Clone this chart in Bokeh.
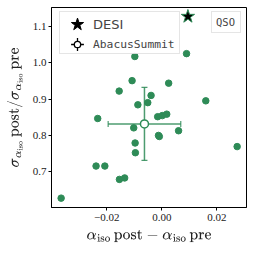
from bokeh.plotting import figure
from bokeh.models import (ColumnDataSource, Legend, LegendItem, Whisker, TeeHead,
                          FixedTicker, Range1d)
from bokeh.embed import file_html
from bokeh.resources import INLINE

# ---- data ----
dx = [-0.0366, -0.0239, -0.0207, -0.0233, -0.0154, -0.0135, -0.0155, -0.0108,
      -0.0098, -0.0087, -0.0102, -0.0097, -0.0096, -0.0051, -0.0039, 0.0025,
      -0.0015, 0.0002, 0.0018, -0.0012, -0.0009, 0.0061, 0.0160, 0.0274, 0.0090]
dy = [0.625, 0.714, 0.714, 0.846, 0.677, 0.681, 0.922, 0.951,
      1.018, 0.884, 0.820, 0.778, 0.751, 0.890, 0.910, 0.944,
      0.851, 0.854, 0.858, 0.799, 0.796, 0.812, 0.895, 0.768, 1.026]
desi_x = [0.0095]
desi_y = [1.129]
mean_x = [-0.0063]
mean_y = [0.831]
err_x = [0.0132]
err_y = [0.1015]

x_ticks = [-0.02, 0.0, 0.02]
x_tick_labels = ["\u22120.02", "0.00", "0.02"]
y_ticks = [0.7, 0.8, 0.9, 1.0, 1.1]
y_tick_labels = ["0.7", "0.8", "0.9", "1.0", "1.1"]

GREEN = "#2e8b57"
NAN = [float("nan")]
FH = 200

p = figure(frame_width=195, frame_height=FH, output_backend="svg", toolbar_location=None,
           x_range=Range1d(-0.0401, 0.0308), y_range=Range1d(0.599, 1.154),
           min_border_left=51, min_border_right=2, min_border_top=7, min_border_bottom=41)
p.grid.visible = False
p.outline_line_color = "black"
p.outline_line_width = 1
p.background_fill_color = "white"
p.border_fill_color = "white"

for ax, ticks, labels in ((p.xaxis, x_ticks, x_tick_labels), (p.yaxis, y_ticks, y_tick_labels)):
    ax.ticker = FixedTicker(ticks=ticks)
    ax.major_label_overrides = dict(zip(ticks, labels))
    ax.major_label_text_font = "Liberation Serif"
    ax.major_label_text_font_size = "11px"
    ax.major_label_text_color = "#222222"
    ax.minor_tick_line_color = None
    ax.major_tick_in = 0
    ax.major_tick_out = 3
    ax.axis_line_color = "black"
    ax.major_tick_line_color = "black"
    ax.axis_label_text_font_size = "13px"
    ax.axis_label_text_font_style = "normal"
    ax.axis_label_text_color = "#222222"

p.xaxis.major_label_standoff = 3
p.yaxis.major_label_standoff = 2
p.xaxis.axis_label = r"$$\alpha_\mathrm{iso}\,\mathrm{post} - \alpha_\mathrm{iso}\,\mathrm{pre}$$"
p.yaxis.axis_label = r"$$\sigma_{\alpha_\mathrm{iso}}\,\mathrm{post}/\sigma_{\alpha_\mathrm{iso}}\,\mathrm{pre}$$"
p.xaxis.axis_label_standoff = 6
p.yaxis.axis_label_standoff = 7

# points
p.scatter(dx, dy, size=6.5, fill_color=GREEN, line_color=GREEN)

# error bars of AbacusSummit mean
src = ColumnDataSource(dict(x=mean_x, y=mean_y,
                            xl=[mean_x[0] - err_x[0]], xu=[mean_x[0] + err_x[0]],
                            yl=[mean_y[0] - err_y[0]], yu=[mean_y[0] + err_y[0]]))
for base, lo, up, dim in (("y", "xl", "xu", "width"), ("x", "yl", "yu", "height")):
    w = Whisker(source=src, base=base, lower=lo, upper=up, dimension=dim,
                line_color=GREEN, line_width=1.5, line_alpha=0.85,
                upper_head=TeeHead(size=6, line_color=GREEN, line_width=1.2, line_alpha=0.85),
                lower_head=TeeHead(size=6, line_color=GREEN, line_width=1.2, line_alpha=0.85))
    p.add_layout(w)
p.scatter("x", "y", source=src, size=8, fill_color="white", line_color=GREEN, line_width=1.5)

# DESI star
p.scatter(desi_x, desi_y, marker="star", size=14, fill_color="black", line_color=GREEN, line_width=1)

# ---- legend (keys only; renderers with no visible point) ----
r_star = p.scatter(NAN, NAN, marker="star", size=14, fill_color="black", line_color="black")
r_cross = p.scatter(NAN, NAN, marker="cross", size=12, line_color="black", line_width=1.3)
r_circ = p.scatter(NAN, NAN, marker="circle", size=7, fill_color="white", line_color="black", line_width=1.3)
r_blank = p.scatter(NAN, NAN, marker="circle", size=1, fill_alpha=0, line_alpha=0)

# legend frame
legA = Legend(items=[LegendItem(label="\u00a0", renderers=[r_blank]),
                     LegendItem(label="\u00a0" * 20, renderers=[r_blank])],
              location=(8, FH - 47), margin=0,
              glyph_width=24, glyph_height=16, label_height=16, spacing=1, padding=4,
              label_standoff=4, label_text_font="DejaVu Sans", label_text_font_size="13px",
              border_line_color="#cccccc", background_fill_alpha=0.8)
# DESI entry
legS = Legend(items=[LegendItem(label="DESI", renderers=[r_star])],
              location=(10, FH - 33), margin=0,
              glyph_width=32, glyph_height=32, label_height=32, padding=0, label_standoff=0,
              label_text_font="DejaVu Sans", label_text_font_size="13px",
              border_line_color=None, background_fill_alpha=0)
# AbacusSummit entry
legE = Legend(items=[LegendItem(label="AbacusSummit", renderers=[r_cross])],
              location=(10, FH - 53), margin=0,
              glyph_width=32, glyph_height=32, label_height=32, padding=0, label_standoff=-2,
              label_text_font="DejaVu Sans Mono", label_text_font_size="11.3px",
              border_line_color=None, background_fill_alpha=0)
legE2 = Legend(items=[LegendItem(label=" ", renderers=[r_circ])],
               location=(18, FH - 45), margin=0,
               glyph_width=16, glyph_height=16, label_height=16, padding=0, label_standoff=0,
               label_text_font_size="1px",
               border_line_color=None, background_fill_alpha=0)
legC = Legend(items=[LegendItem(label="QSO", renderers=[r_blank])],
              location=(160, FH - 26), margin=0,
              glyph_width=0, glyph_height=11, label_height=11, padding=4, label_standoff=0,
              label_text_font="DejaVu Sans Mono", label_text_font_size="10.5px",
              border_line_color="#cccccc", background_fill_alpha=0.8)
for lg in (legA, legS, legE, legE2, legC):
    p.add_layout(lg)

open("out.html", "w").write(file_html(p, INLINE))
